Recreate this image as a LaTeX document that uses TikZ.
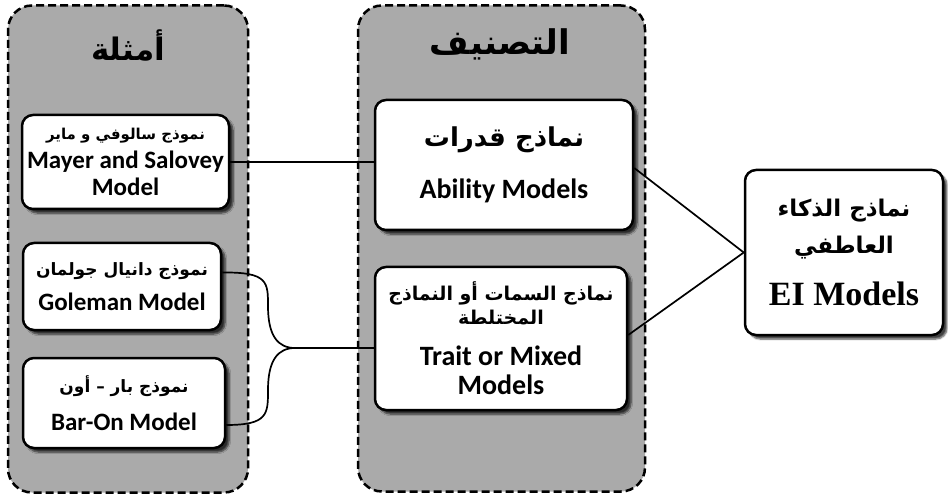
\documentclass[tikz,border=0pt]{standalone}
\usepackage{fontspec}
\usetikzlibrary{shadows.blur,calc}
\TeXXeTstate=1
\newfontfamily\arf[Script=Arabic]{DejaVu Sans}
\newfontfamily\enf{Carlito}
\newfontfamily\tmf{Liberation Serif}
\definecolor{panelgray}{RGB}{170,170,170}
\newcommand\artxt[2]{{\fontsize{#1}{#1}\selectfont\arf\bfseries #2}}
\newcommand\entxt[2]{{\fontsize{#1}{#1}\selectfont\enf\bfseries #2}}
\begin{document}
\begin{tikzpicture}[x=1pt,y=-1pt,
  panel/.style={draw, line width=2.5pt, dash pattern=on 8pt off 4pt, rounded corners=24pt, fill=panelgray},
  card/.style={draw, line width=2.5pt, rounded corners=11pt, fill=white,
    blur shadow={shadow xshift=4pt, shadow yshift=-4pt, shadow blur steps=6, shadow opacity=75},
    align=center, inner sep=0pt},
  title/.style={inner sep=0pt, align=center},
  link/.style={line width=1.7pt}]
\useasboundingbox (0,0) rectangle (948,497);
% panels
\node[panel, minimum width=240pt, minimum height=487pt] (lp) at (128,249) {};
\node[panel, minimum width=287pt, minimum height=486pt] (mp) at (501.5,248.5) {};
\node[title] (lt) at (128,45) {\artxt{31}{\beginR أمثلة\endR}};
\node[title] (mt) at (500,44) {\artxt{34}{\beginR التصنيف\endR}};
% example cards
\node[card, minimum width=207pt, minimum height=94pt] (may) at (125.5,162)
  {\artxt{15}{\beginR نموذج سالوفي و ماير\endR}\\[7pt]\entxt{25}{Mayer and Salovey}\\[5pt]\entxt{25}{Model}};
\node[card, minimum width=198pt, minimum height=87pt] (gol) at (122,286.5)
  {\artxt{17}{\beginR نموذج دانيال جولمان\endR}\\[12pt]\entxt{25}{Goleman Model}};
\node[card, minimum width=202pt, minimum height=90pt] (bar) at (124,403)
  {\artxt{17}{\beginR نموذج بار – أون\endR}\\[15pt]\entxt{25}{Bar-On Model}};
% classification cards
\node[card, minimum width=258pt, minimum height=130pt] (abi) at (504,165)
  {\artxt{26}{\beginR نماذج قدرات\endR}\\[25pt]\entxt{28}{Ability Models}};
\node[card, minimum width=252pt, minimum height=143pt] (tra) at (501,338.5)
  {\artxt{19}{\beginR نماذج السمات أو النماذج\endR}\\[4pt]\artxt{19}{\beginR المختلطة\endR}\\[20pt]\entxt{28}{Trait or Mixed}\\[8pt]\entxt{28}{Models}};
% EI card
\node[card, minimum width=198pt, minimum height=165pt] (ei) at (844,252.5)
  {\artxt{23}{\beginR نماذج الذكاء\endR}\\[12pt]\artxt{23}{\beginR العاطفي\endR}\\[22pt]{\fontsize{34}{34}\selectfont\tmf\bfseries EI Models}};
% connectors
\coordinate (j) at (295,348);
\draw[link] (may.east) -- (may.east -| abi.west);
\draw[link] ([yshift=14pt]gol.east) .. controls (268,272) and (268,282) .. (268,306)
  .. controls (268,336) and (278,348) .. (j);
\draw[link] (j) .. controls (278,348) and (268,360) .. (268,390)
  .. controls (268,414) and (268,425) .. ([yshift=-22pt]bar.east);
\draw[link] (j) -- ([yshift=-9.5pt]tra.west);
\draw[link] ([yshift=-3pt]abi.east) -- (ei.west);
\draw[link] ([yshift=3.5pt]tra.east) -- (ei.west);
\end{tikzpicture}
\end{document}
